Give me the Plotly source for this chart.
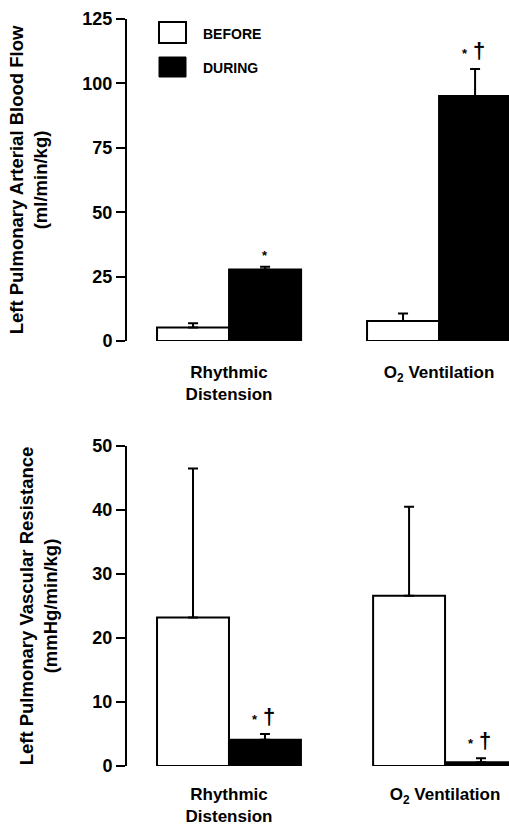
import plotly.graph_objects as go

# ---------------- data ----------------
categories = ["Rhythmic Distension", "O2 Ventilation"]
category_labels = ["Rhythmic<br>Distension", "O<sub>2</sub> Ventilation"]

flow_before = [5.2, 7.8]
flow_before_sem = [1.7, 2.9]
flow_during = [27.8, 95.1]
flow_during_sem = [1.0, 10.5]
flow_marks = ["*", "*†"]          # significance marks over DURING bars

res_before = [23.2, 26.6]
res_before_sem = [23.3, 13.9]
res_during = [4.1, 0.6]
res_during_sem = [0.9, 0.6]
res_marks = ["*†", "*†"]

flow_ticks = [0, 25, 50, 75, 100, 125]
res_ticks = [0, 10, 20, 30, 40, 50]

# ---------------- styling ----------------
FONT = "Liberation Sans, Arial, Helvetica, sans-serif"
W, H = 509, 825
BW_TOP = 0.343
BW_BOT = 0.333

fig = go.Figure()


def add_pair(before, bsem, during, dsem, xa, ya, bw):
    fig.add_trace(go.Bar(
        name="BEFORE", x=categories, y=before, xaxis=xa, yaxis=ya,
        width=bw, offset=-bw,
        marker=dict(color="white", line=dict(color="black", width=2)),
        error_y=dict(type="data", symmetric=False, array=bsem,
                     arrayminus=[0] * len(bsem), color="black",
                     thickness=2, width=5),
        showlegend=False))
    fig.add_trace(go.Bar(
        name="DURING", x=categories, y=during, xaxis=xa, yaxis=ya,
        width=bw, offset=0,
        marker=dict(color="black", line=dict(color="black", width=2)),
        error_y=dict(type="data", symmetric=False, array=dsem,
                     arrayminus=[0] * len(dsem), color="black",
                     thickness=2, width=5),
        showlegend=False))


add_pair(flow_before, flow_before_sem, flow_during, flow_during_sem, "x", "y", BW_TOP)
add_pair(res_before, res_before_sem, res_during, res_during_sem, "x2", "y2", BW_BOT)

annotations = []


def add_marks(marks, during, dsem, xref, yref, bw):
    for i, m in enumerate(marks):
        xc = i + bw / 2
        ytop = during[i] + dsem[i]
        if "†" in m:
            annotations.append(dict(
                x=xc, y=ytop, xref=xref, yref=yref, text="*", showarrow=False,
                xanchor="center", yanchor="middle", xshift=-10, yshift=15,
                font=dict(family=FONT, size=13, color="black", weight="bold")))
            annotations.append(dict(
                x=xc, y=ytop, xref=xref, yref=yref, text="†", showarrow=False,
                xanchor="center", yanchor="middle", xshift=4, yshift=18,
                font=dict(family=FONT, size=22, color="black", weight="bold")))
        else:
            annotations.append(dict(
                x=xc, y=ytop, xref=xref, yref=yref, text="*", showarrow=False,
                xanchor="center", yanchor="middle", yshift=11,
                font=dict(family=FONT, size=13, color="black", weight="bold")))


add_marks(flow_marks, flow_during, flow_during_sem, "x", "y", BW_TOP)
add_marks(res_marks, res_during, res_during_sem, "x2", "y2", BW_BOT)

# legend drawn as boxes + labels
shapes = [
    dict(type="rect", xref="paper", yref="paper",
         x0=159 / W, x1=186 / W, y0=1 - 43 / H, y1=1 - 22 / H,
         fillcolor="white", line=dict(color="black", width=2)),
    dict(type="rect", xref="paper", yref="paper",
         x0=159 / W, x1=186 / W, y0=1 - 77 / H, y1=1 - 57 / H,
         fillcolor="black", line=dict(color="black", width=1)),
]
annotations += [
    dict(x=201 / W, y=1 - 34 / H, xref="paper", yref="paper", text="BEFORE",
         showarrow=False, xanchor="left", yanchor="middle",
         font=dict(family=FONT, size=14, color="black", weight="bold")),
    dict(x=201 / W, y=1 - 68 / H, xref="paper", yref="paper", text="DURING",
         showarrow=False, xanchor="left", yanchor="middle",
         font=dict(family=FONT, size=14, color="black", weight="bold")),
]

xtickfont = dict(family=FONT, size=17, color="black", weight="bold")
ytickfont = dict(family=FONT, size=18, color="black", weight="bold")
titlefont = dict(family=FONT, size=18.5, color="black", weight="bold")

xcommon = dict(type="category", showline=False, ticks="", showgrid=False,
               zeroline=False, tickfont=xtickfont, automargin=False,
               tickvals=categories, ticktext=category_labels)
ycommon = dict(showline=True, linecolor="black", linewidth=2, ticks="outside",
               ticklen=9, tickwidth=2, tickcolor="black", showgrid=False,
               zeroline=False, tickfont=ytickfont, automargin=False)

fig.update_layout(
    width=W, height=H,
    margin=dict(l=0, r=0, t=0, b=0),
    paper_bgcolor="white", plot_bgcolor="white",
    barmode="overlay",
    showlegend=False,
    xaxis=dict(domain=[127 / W, 1], range=[-0.486, 1.333], anchor="y",
               ticklabelstandoff=19, **xcommon),
    yaxis=dict(domain=[1 - 341 / H, 1 - 19 / H], range=[0, 125], anchor="x",
               tickvals=flow_ticks,
               title=dict(text="Left Pulmonary Arterial Blood Flow<br>(ml/min/kg)",
                          font=titlefont, standoff=30),
               **ycommon),
    xaxis2=dict(domain=[127 / W, 1], range=[-0.472, 1.296], anchor="y2",
                ticklabelstandoff=16, **xcommon),
    yaxis2=dict(domain=[1 - 766 / H, 1 - 446 / H], range=[0, 50], anchor="x2",
                tickvals=res_ticks,
                title=dict(text="Left Pulmonary Vascular Resistance<br>(mmHg/min/kg)",
                           font=titlefont, standoff=30),
                **ycommon),
    shapes=shapes,
    annotations=annotations,
)

fig.write_html("out.html", config={"displayModeBar": False},
               post_script="document.body.style.margin='0';")
